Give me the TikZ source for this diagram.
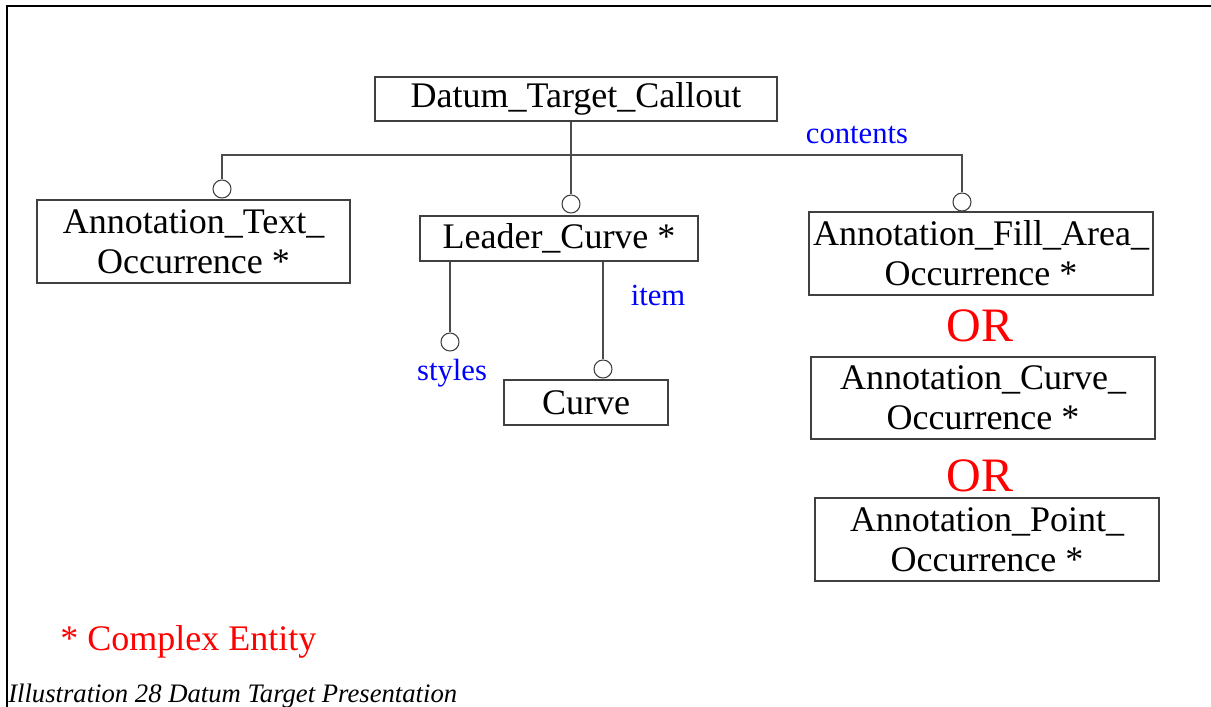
\documentclass[tikz,border=0pt]{standalone}
\usepackage{fontspec}
\setmainfont{Liberation Serif}
\usetikzlibrary{positioning}
\tikzset{block/.style={draw=black!75, line width=0.8pt, text centered, align=center, inner sep=0pt, font=\fontsize{27}{30}\selectfont}}
\tikzset{connect/.style={draw=black!70, line width=0.8pt}}
\tikzset{ring/.style={circle, draw=black!75, line width=0.8pt, fill=white, minimum size=13.5pt, inner sep=0pt}}
\tikzset{role/.style={text=blue, font=\fontsize{23}{26}\selectfont, inner sep=0pt}}
\tikzset{choice/.style={text=red, font=\fontsize{36}{40}\selectfont, inner sep=0pt}}

\begin{document}
\begin{tikzpicture}[x=0.75pt,y=-0.75pt]

\useasboundingbox (0,0) rectangle (1211,707);

%frame
\draw[line width=1.5pt] (1211,6) -- (7,6) -- (7,707);

%entities
\node[block,minimum height=33pt,minimum width=301.5pt] (callout) at (576,99) {Datum\_Target\_Callout};
\node[block,minimum height=62.25pt,minimum width=234.75pt] (text) at (193.5,241.5) {Annotation\_Text\_\\Occurrence *};
\node[block,minimum height=33.75pt,minimum width=208.5pt] (leader) at (559,238.5) {Leader\_Curve *};
\node[block,minimum height=33.75pt,minimum width=123pt] (curve) at (586,402.5) {Curve};
\node[block,minimum height=62.25pt,minimum width=258pt] (fill) at (981,253.5) {Annotation\_Fill\_Area\_\\Occurrence *};
\node[block,minimum height=61.5pt,minimum width=258pt] (curveocc) at (983,398) {Annotation\_Curve\_\\Occurrence *};
\node[block,minimum height=62.25pt,minimum width=258pt] (point) at (987,539.5) {Annotation\_Point\_\\Occurrence *};

%choices
\node[choice] (or1) at (980,326) {OR};
\node[choice] (or2) at (980,476) {OR};

%rings
\node[ring] (ctext) at (222,189) {};
\node[ring] (cleader) at (571,204) {};
\node[ring] (cfill) at (962,202) {};
\node[ring] (cstyles) at (450,342) {};
\node[ring] (ccurve) at (603,369) {};
\coordinate (bar) at (571,155);

%contents
\path[connect] (callout.south -| cleader) -- (cleader.north);
\path[connect] (ctext.north) |- (bar) -| (cfill.north);
\node[role] (contents) at (857,135) {contents};

%leader curve
\path[connect] (leader.south -| cstyles) -- (cstyles.north);
\path[connect] (leader.south -| ccurve) -- (ccurve.north);
\node[role] (styles) at (452,373) {styles};
\node[role] (item) at (658,295) {item};

%legend
\node[text=red,font=\fontsize{27}{30}\selectfont,inner sep=0pt,anchor=base west] (legend) at (60,650) {* Complex Entity};
\node[font=\fontsize{20}{24}\selectfont\itshape,inner sep=0pt,anchor=base west] (caption) at (8,702) {Illustration 28 Datum Target Presentation};

\end{tikzpicture}
\end{document}
